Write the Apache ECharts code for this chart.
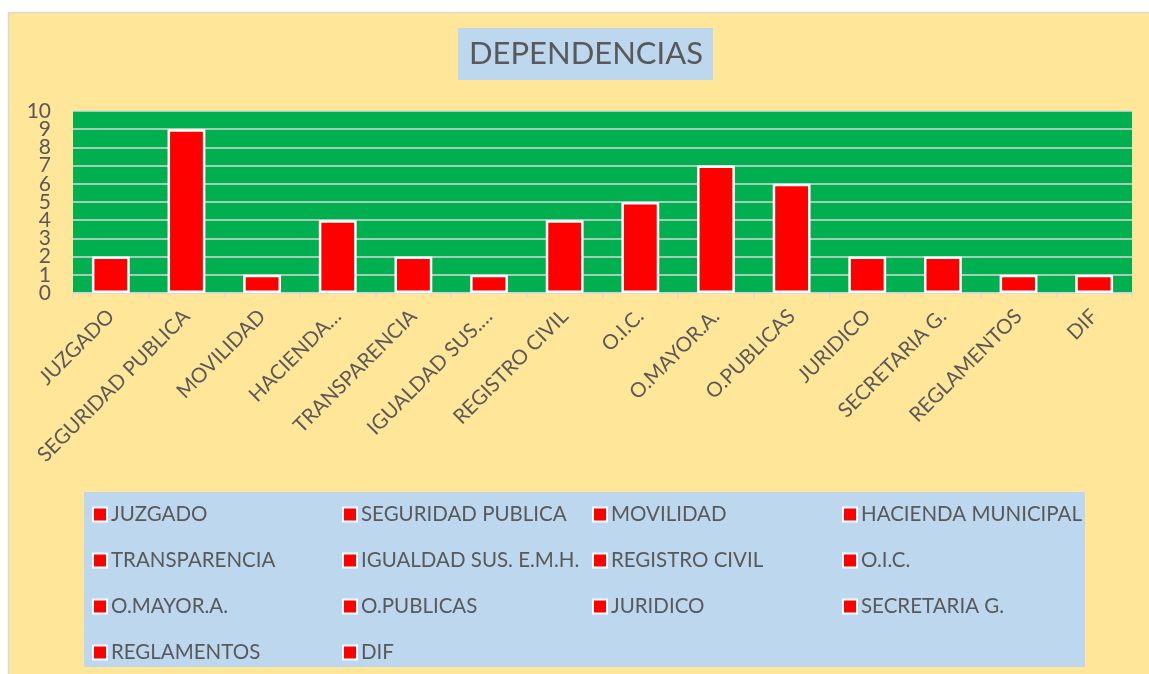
<!DOCTYPE html>
<html style="height: 100%">
<head>
<meta charset="utf-8">
<title>DEPENDENCIAS</title>
<script src="https://cdn.jsdelivr.net/npm/echarts@6/dist/echarts.min.js"></script>
</head>
<body style="height: 100%; margin: 0; background: #ffffff">
<div id="container" style="width: 1149px; height: 674px"></div>
<script type="text/javascript">
// categorias (nombre completo para la leyenda) y etiquetas del eje
var categorias = ['JUZGADO', 'SEGURIDAD PUBLICA', 'MOVILIDAD', 'HACIENDA MUNICIPAL', 'TRANSPARENCIA',
    'IGUALDAD SUS. E.M.H.', 'REGISTRO CIVIL', 'O.I.C.', 'O.MAYOR.A.', 'O.PUBLICAS',
    'JURIDICO', 'SECRETARIA G.', 'REGLAMENTOS', 'DIF'];
var etiquetasEje = ['JUZGADO', 'SEGURIDAD PUBLICA', 'MOVILIDAD', 'HACIENDA…', 'TRANSPARENCIA',
    'IGUALDAD SUS.…', 'REGISTRO CIVIL', 'O.I.C.', 'O.MAYOR.A.', 'O.PUBLICAS',
    'JURIDICO', 'SECRETARIA G.', 'REGLAMENTOS', 'DIF'];
var valores = [2, 9, 1, 4, 2, 1, 4, 5, 7, 6, 2, 2, 1, 1];
var ticksY = [0, 1, 2, 3, 4, 5, 6, 7, 8, 9, 10];

var fuente = 'Lato';
var gris = '#595959';

var dom = document.getElementById('container');
var myChart = echarts.init(dom);

// una serie por dependencia, asi la leyenda muestra cada una
var series = categorias.map(function (nombre, i) {
    var d = valores.map(function (v, j) { return j === i ? v : '-'; });
    return {
        name: nombre,
        type: 'bar',
        stack: 'total',
        barWidth: '50%',
        data: d,
        itemStyle: { color: '#ff0000', borderColor: '#ffffff', borderWidth: 2.5 }
    };
});

// leyenda en 4 columnas
var columnasX = [92, 342, 592, 842];
var legends = columnasX.map(function (x, c) {
    var items = categorias.filter(function (n, i) { return i % 4 === c; });
    return {
        orient: 'vertical',
        left: x,
        top: 504,
        itemGap: 25,
        itemWidth: 14,
        itemHeight: 14,
        icon: 'rect',
        padding: 0,
        selectedMode: false,
        data: items,
        itemStyle: { color: '#ff0000', borderColor: '#ffffff', borderWidth: 2 },
        textStyle: { color: gris, fontSize: 20.5, fontFamily: fuente, lineHeight: 20, padding: [0, 0, 0, -1] }
    };
});

var etiquetaY = { color: gris, fontSize: 21, fontFamily: fuente, margin: 22 };
var yMin = ticksY[0];
var yMax = ticksY[ticksY.length - 1];

var option = {
    animation: false,
    textStyle: { fontFamily: fuente },
    graphic: [
        { type: 'rect', z: -10, shape: { x: 8.5, y: 12.5, width: 1145, height: 670 },
          style: { fill: '#FFE699', stroke: '#D9D9D9', lineWidth: 1.5 } },
        { type: 'rect', z: -5, shape: { x: 84, y: 492, width: 1001, height: 175 },
          style: { fill: '#BDD7EE' } }
    ],
    title: {
        text: 'DEPENDENCIAS',
        left: 458,
        top: 28,
        padding: [10, 10, 10, 11],
        backgroundColor: '#BDD7EE',
        textStyle: { color: gris, fontSize: 31, fontWeight: 'normal', fontFamily: fuente, lineHeight: 32 }
    },
    legend: legends,
    grid: { left: 73, right: 17, top: 111, bottom: 381, backgroundColor: '#00B050', show: true, borderWidth: 0 },
    xAxis: {
        type: 'category',
        data: etiquetasEje,
        axisLine: { lineStyle: { color: '#D9D9D9', width: 1.5 } },
        axisTick: { show: true, length: 5, interval: 0, lineStyle: { color: '#D9D9D9', width: 1.5 } },
        axisLabel: { interval: 0, rotate: 45, margin: 20, color: gris, fontSize: 20.5, fontFamily: fuente }
    },
    yAxis: [{
        // etiquetas 1..9 y lineas de cuadricula
        type: 'value',
        min: yMin,
        max: yMax,
        interval: 1,
        axisLine: { show: false },
        axisTick: { show: false },
        axisLabel: Object.assign({ showMinLabel: false, showMaxLabel: false }, etiquetaY),
        splitLine: { lineStyle: { color: '#D9D9D9', width: 1.5 } }
    }, {
        // solo 0 y 10 (evita que se oculten 1 y 9 por solapamiento)
        type: 'value',
        position: 'left',
        min: yMin,
        max: yMax,
        interval: yMax - yMin,
        axisLine: { show: false },
        axisTick: { show: false },
        axisLabel: etiquetaY,
        splitLine: { show: false }
    }],
    series: series
};

myChart.setOption(option);
</script>
</body>
</html>
